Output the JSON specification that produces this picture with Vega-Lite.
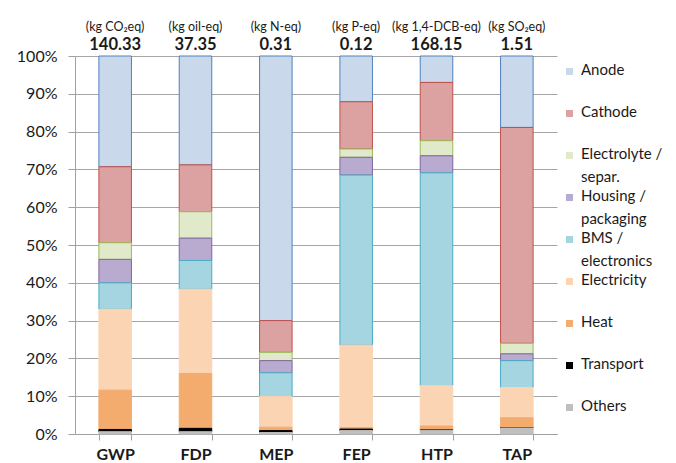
{
  "$schema": "https://vega.github.io/schema/vega-lite/v6.json",
  "autosize": {"type": "none"},
  "padding": {"left": 75, "top": 56, "right": 119, "bottom": 29},
  "width": 482,
  "height": 378,
  "background": "white",
  "config": {"view": {"stroke": null}, "font": "Lato"},
  "datasets": {
    "shares": [
      {"indicator": "GWP", "component": "Anode", "share": 29.3},
      {"indicator": "GWP", "component": "Cathode", "share": 20.1},
      {"indicator": "GWP", "component": "Electrolyte / separ.", "share": 4.4},
      {"indicator": "GWP", "component": "Housing / packaging", "share": 6.2},
      {"indicator": "GWP", "component": "BMS / electronics", "share": 7.0},
      {"indicator": "GWP", "component": "Electricity", "share": 21.4},
      {"indicator": "GWP", "component": "Heat", "share": 10.4},
      {"indicator": "GWP", "component": "Transport", "share": 0.6},
      {"indicator": "GWP", "component": "Others", "share": 0.6},
      {"indicator": "FDP", "component": "Anode", "share": 28.8},
      {"indicator": "FDP", "component": "Cathode", "share": 12.4},
      {"indicator": "FDP", "component": "Electrolyte / separ.", "share": 7.0},
      {"indicator": "FDP", "component": "Housing / packaging", "share": 5.9},
      {"indicator": "FDP", "component": "BMS / electronics", "share": 7.6},
      {"indicator": "FDP", "component": "Electricity", "share": 22.3},
      {"indicator": "FDP", "component": "Heat", "share": 14.5},
      {"indicator": "FDP", "component": "Transport", "share": 0.9},
      {"indicator": "FDP", "component": "Others", "share": 0.6},
      {"indicator": "MEP", "component": "Anode", "share": 70.0},
      {"indicator": "MEP", "component": "Cathode", "share": 8.4},
      {"indicator": "MEP", "component": "Electrolyte / separ.", "share": 2.2},
      {"indicator": "MEP", "component": "Housing / packaging", "share": 3.2},
      {"indicator": "MEP", "component": "BMS / electronics", "share": 6.3},
      {"indicator": "MEP", "component": "Electricity", "share": 8.1},
      {"indicator": "MEP", "component": "Heat", "share": 0.9},
      {"indicator": "MEP", "component": "Transport", "share": 0.5},
      {"indicator": "MEP", "component": "Others", "share": 0.4},
      {"indicator": "FEP", "component": "Anode", "share": 12.1},
      {"indicator": "FEP", "component": "Cathode", "share": 12.5},
      {"indicator": "FEP", "component": "Electrolyte / separ.", "share": 2.2},
      {"indicator": "FEP", "component": "Housing / packaging", "share": 4.7},
      {"indicator": "FEP", "component": "BMS / electronics", "share": 45.0},
      {"indicator": "FEP", "component": "Electricity", "share": 21.8},
      {"indicator": "FEP", "component": "Heat", "share": 0.4},
      {"indicator": "FEP", "component": "Transport", "share": 0.4},
      {"indicator": "FEP", "component": "Others", "share": 0.9},
      {"indicator": "HTP", "component": "Anode", "share": 7.0},
      {"indicator": "HTP", "component": "Cathode", "share": 15.4},
      {"indicator": "HTP", "component": "Electrolyte / separ.", "share": 4.0},
      {"indicator": "HTP", "component": "Housing / packaging", "share": 4.5},
      {"indicator": "HTP", "component": "BMS / electronics", "share": 56.3},
      {"indicator": "HTP", "component": "Electricity", "share": 10.7},
      {"indicator": "HTP", "component": "Heat", "share": 1.0},
      {"indicator": "HTP", "component": "Transport", "share": 0.1},
      {"indicator": "HTP", "component": "Others", "share": 1.0},
      {"indicator": "TAP", "component": "Anode", "share": 18.9},
      {"indicator": "TAP", "component": "Cathode", "share": 57.1},
      {"indicator": "TAP", "component": "Electrolyte / separ.", "share": 2.8},
      {"indicator": "TAP", "component": "Housing / packaging", "share": 1.8},
      {"indicator": "TAP", "component": "BMS / electronics", "share": 7.1},
      {"indicator": "TAP", "component": "Electricity", "share": 8.0},
      {"indicator": "TAP", "component": "Heat", "share": 2.6},
      {"indicator": "TAP", "component": "Transport", "share": 0.1},
      {"indicator": "TAP", "component": "Others", "share": 1.6}
    ],
    "totals": [
      {"indicator": "GWP", "unit": "(kg CO₂eq)", "total": "140.33"},
      {"indicator": "FDP", "unit": "(kg oil-eq)", "total": "37.35"},
      {"indicator": "MEP", "unit": "(kg N-eq)", "total": "0.31"},
      {"indicator": "FEP", "unit": "(kg P-eq)", "total": "0.12"},
      {"indicator": "HTP", "unit": "(kg 1,4-DCB-eq)", "total": "168.15"},
      {"indicator": "TAP", "unit": "(kg SO₂eq)", "total": "1.51"}
    ]
  },
  "layer": [
    {
      "data": {"name": "shares"},
      "transform": [
        {"calculate": "indexof(['Others','Transport','Heat','Electricity','BMS / electronics','Housing / packaging','Electrolyte / separ.','Cathode','Anode'], datum.component)", "as": "stack_rank"}
      ],
      "mark": {"type": "bar", "strokeWidth": 1},
      "encoding": {
        "x": {
          "field": "indicator", "type": "nominal",
          "sort": ["GWP", "FDP", "MEP", "FEP", "HTP", "TAP"],
          "scale": {"paddingInner": 0.595, "paddingOuter": 0.2975},
          "axis": {
            "title": null, "labelAngle": 0, "tickBand": "extent",
            "domainColor": "#a0a0a0", "tickColor": "#a0a0a0", "tickSize": 6,
            "labelFont": "Lato", "labelFontSize": 16, "labelFontWeight": "bold",
            "labelColor": "#1a1a1a", "labelPadding": 14, "labelBaseline": "middle"
          }
        },
        "y": {
          "field": "share", "type": "quantitative", "stack": "zero",
          "scale": {"domain": [0, 100], "nice": false},
          "axis": {
            "title": null, "values": [0, 10, 20, 30, 40, 50, 60, 70, 80, 90, 100],
            "labelOverlap": false, "labelBound": false,
            "labelExpr": "datum.value + '%'",
            "domainColor": "#a0a0a0", "tickColor": "#a0a0a0", "tickSize": 7,
            "gridColor": "#a6a6a6", "grid": true,
            "labelFont": "Lato", "labelFontSize": 16, "labelColor": "#1a1a1a", "labelPadding": 11
          }
        },
        "fill": {
          "field": "component", "type": "nominal",
          "scale": {
            "domain": ["Anode", "Cathode", "Electrolyte / separ.", "Housing / packaging", "BMS / electronics", "Electricity", "Heat", "Transport", "Others"],
            "range": ["#c9d8ea", "#dca2a1", "#e0eacb", "#b9abcf", "#a4d5e0", "#fbd4b4", "#f3ab6e", "#000000", "#bfbfbf"]
          },
          "legend": {
            "title": null, "orient": "none", "legendX": 487, "legendY": 8,
            "direction": "vertical", "columns": 1, "padding": 0,
            "gridAlign": "all", "rowPadding": 3,
            "symbolType": "square", "symbolSize": 49, "symbolStrokeWidth": 0,
            "labelFont": "Lato", "labelFontSize": 15, "labelColor": "#1a1a1a",
            "labelOffset": 4, "labelLimit": 200, "labelBaseline": "top",
            "labelExpr": "datum.label == 'Electrolyte / separ.' ? ['Electrolyte /', 'separ.'] : datum.label == 'Housing / packaging' ? ['Housing /', 'packaging'] : datum.label == 'BMS / electronics' ? ['BMS /', 'electronics'] : datum.label",
            "encode": {"labels": {"update": {"dy": {"value": -9}, "lineHeight": {"value": 23}}}}
          }
        },
        "stroke": {
          "field": "component", "type": "nominal",
          "scale": {
            "domain": ["Anode", "Cathode", "Electrolyte / separ.", "Housing / packaging", "BMS / electronics", "Electricity", "Heat", "Transport", "Others"],
            "range": ["#4f81bd", "#c0504d", "#9bbb59", "#8064a2", "#4bacc6", "#fbd4b4", "#f3ab6e", "#000000", "#bfbfbf"]
          },
          "legend": null
        },
        "order": {"field": "stack_rank", "type": "quantitative", "sort": "ascending"}
      }
    },
    {
      "data": {"name": "totals"},
      "mark": {"type": "text", "dy": -29, "fontSize": 12.5, "baseline": "middle", "font": "Lato", "color": "#1a1a1a"},
      "encoding": {
        "x": {"field": "indicator", "type": "nominal", "sort": ["GWP", "FDP", "MEP", "FEP", "HTP", "TAP"]},
        "y": {
          "datum": 100, "type": "quantitative",
          "axis": {
            "title": null, "values": [0, 10, 20, 30, 40, 50, 60, 70, 80, 90, 100],
            "labelOverlap": false, "labelBound": false,
            "labelExpr": "datum.value + '%'",
            "domainColor": "#a0a0a0", "tickColor": "#a0a0a0", "tickSize": 7,
            "gridColor": "#a6a6a6", "grid": true,
            "labelFont": "Lato", "labelFontSize": 16, "labelColor": "#1a1a1a", "labelPadding": 11
          }
        },
        "text": {"field": "unit"}
      }
    },
    {
      "data": {"name": "totals"},
      "mark": {"type": "text", "dy": -11, "fontSize": 16.5, "fontWeight": "bold", "baseline": "middle", "font": "Lato", "color": "#1a1a1a"},
      "encoding": {
        "x": {"field": "indicator", "type": "nominal", "sort": ["GWP", "FDP", "MEP", "FEP", "HTP", "TAP"]},
        "y": {
          "datum": 100, "type": "quantitative",
          "axis": {
            "title": null, "values": [0, 10, 20, 30, 40, 50, 60, 70, 80, 90, 100],
            "labelOverlap": false, "labelBound": false,
            "labelExpr": "datum.value + '%'",
            "domainColor": "#a0a0a0", "tickColor": "#a0a0a0", "tickSize": 7,
            "gridColor": "#a6a6a6", "grid": true,
            "labelFont": "Lato", "labelFontSize": 16, "labelColor": "#1a1a1a", "labelPadding": 11
          }
        },
        "text": {"field": "total"}
      }
    }
  ]
}
